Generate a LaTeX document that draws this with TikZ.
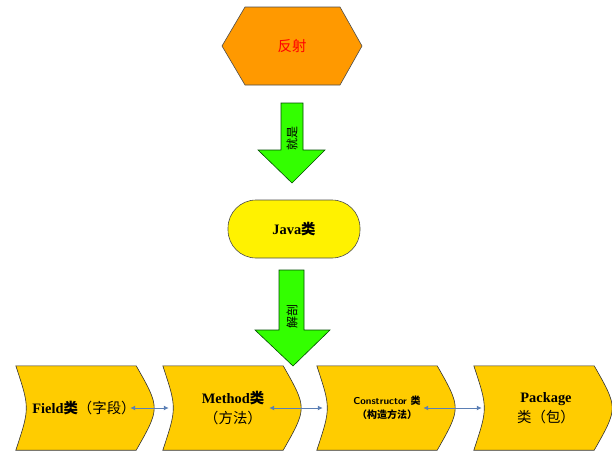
\documentclass[tikz,border=0pt]{standalone}
\usepackage{fontspec}
\setmainfont{Liberation Serif}
\newfontfamily\cjk{Noto Sans CJK SC}
\usetikzlibrary{arrows.meta}
\definecolor{hexorange}{HTML}{FF9900}
\definecolor{arrowgreen}{HTML}{33FF00}
\definecolor{secyellow}{HTML}{FFCC00}
\definecolor{linkblue}{HTML}{5B7FB5}
\tikzset{
  secbox/.style={minimum width=132pt, minimum height=84pt, inner sep=0pt, align=center, font=\bfseries\large},
  link/.style={{Latex[length=5pt,width=5pt]}-{Latex[length=5pt,width=5pt]}, linkblue, line width=1pt},
  bigarrow/.style={fill=arrowgreen, draw=black!70!green, line width=0.6pt}
}
% curved section around a named node
\newcommand{\secshape}[1]{%
  \fill[secyellow, draw=black!80, line width=0.6pt]
    (#1.north west) .. controls ([xshift=14pt]#1.west) .. (#1.south west)
    -- ([xshift=-12pt]#1.south east) .. controls ([xshift=12pt]#1.east) .. ([xshift=-12pt]#1.north east) -- cycle;}
\begin{document}
\begin{tikzpicture}[x=1pt,y=-1pt]
\useasboundingbox (0,0) rectangle (612,463);
% reflection
\fill[hexorange, draw=black!70, line width=0.6pt] (222,46) -- (245,7) -- (340,7) -- (362,46) -- (340,85) -- (245,85) -- cycle;
\node[text=red, font=\cjk\Large] (refl) at (292,46) {反射};
% first arrow
\fill[bigarrow] (281,103) -- (303,103) -- (303,150) -- (325,150) -- (292,183) -- (258,150) -- (281,150) -- cycle;
\node[rotate=90, font=\cjk\large] (isit) at (292,138) {就是};
% java class
\node[fill=yellow, draw=black!70, line width=0.6pt, rounded corners=28pt, minimum width=132pt, minimum height=58pt, font=\bfseries\Large] (java) at (294,229) {Java{\cjk 类}};
% second arrow
\fill[bigarrow] (279,270) -- (304,270) -- (304,330) -- (330,330) -- (293,366) -- (255,330) -- (279,330) -- cycle;
\node[rotate=90, font=\cjk\large] (dissect) at (292,316) {解剖};
% sections
\node[secbox] (field) at (82,408) {};
\node[secbox] (method) at (229,408) {};
\node[secbox] (ctor) at (383,408) {};
\node[secbox] (pkg) at (540,408) {};
\secshape{field}
\secshape{method}
\secshape{ctor}
\secshape{pkg}
\node[font=\bfseries\Large] at ([xshift=2pt]field.center) {Field{\cjk 类}\\[2pt]{\cjk\mdseries （字段）}};
\node[font=\bfseries\Large, align=center] at ([xshift=4pt]method.center) {Method{\cjk 类}\\[2pt]{\cjk\mdseries （方法）}};
\node[font=\sffamily\bfseries, align=center] at ([xshift=4pt]ctor.center) {Constructor {\cjk 类}\\[2pt]{\cjk （构造方法）}};
\node[font=\bfseries\Large, align=center] at ([xshift=6pt]pkg.center) {Package\\[2pt]{\cjk\mdseries 类（包）}};
% links
\draw[link] ([xshift=-18pt]field.east) -- ([xshift=6pt]method.west);
\draw[link] ([xshift=-26pt]method.east) -- ([xshift=6pt]ctor.west);
\draw[link] ([xshift=-26pt]ctor.east) -- ([xshift=8pt]pkg.west);
\end{tikzpicture}
\end{document}
